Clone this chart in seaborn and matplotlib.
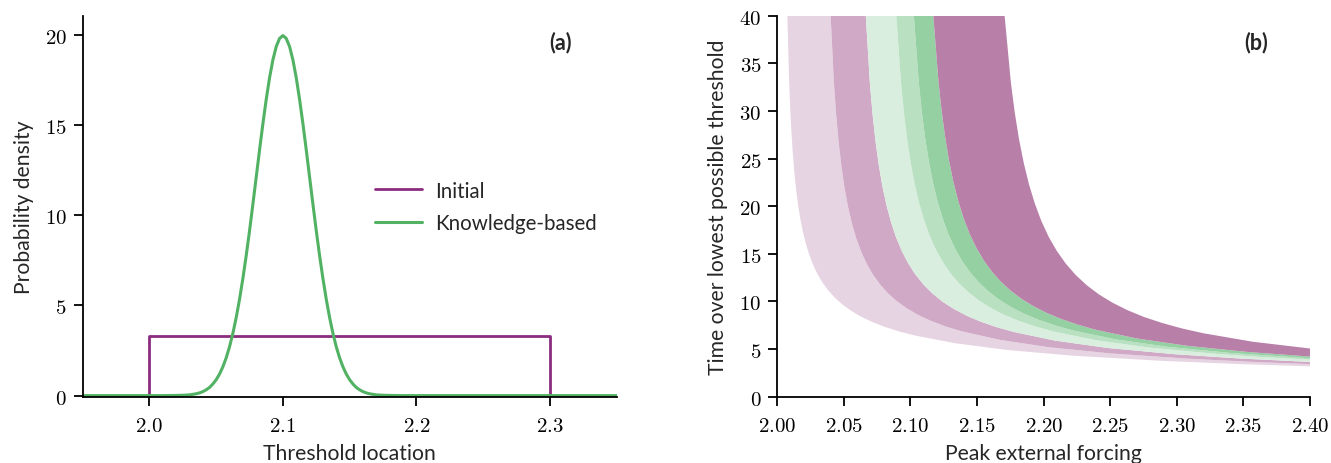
import numpy as np
import pandas as pd
import matplotlib
matplotlib.use("Agg")
import matplotlib.pyplot as plt
import seaborn as sns

# ---------------- data: panel (a) ----------------
initial_x = [1.95, 2.0, 2.0, 2.3, 2.3, 2.35]
initial_y = [0.0, 0.0, 3.33, 3.33, 0.0, 0.0]

knowledge_x = [1.95, 2.00, 2.01, 2.02, 2.025, 2.03, 2.0325, 2.035, 2.0375, 2.04, 2.0425,
               2.045, 2.0475, 2.05, 2.0525, 2.055, 2.0575, 2.06, 2.0625, 2.065, 2.0675,
               2.07, 2.0725, 2.075, 2.0775, 2.08, 2.0825, 2.085, 2.0875, 2.09, 2.0925,
               2.095, 2.0975, 2.10, 2.1025, 2.105, 2.1075, 2.11, 2.1125, 2.115, 2.1175,
               2.12, 2.1225, 2.125, 2.1275, 2.13, 2.1325, 2.135, 2.1375, 2.14, 2.1425,
               2.145, 2.1475, 2.15, 2.1525, 2.155, 2.1575, 2.16, 2.1625, 2.165, 2.1675,
               2.17, 2.175, 2.18, 2.19, 2.20, 2.35]
knowledge_y = [0.0, 0.0, 0.0, 0.01, 0.02, 0.04, 0.07, 0.10, 0.15, 0.22, 0.32,
               0.45, 0.64, 0.88, 1.19, 1.59, 2.09, 2.70, 3.44, 4.32, 5.33,
               6.48, 7.75, 9.13, 10.60, 12.10, 13.61, 15.06, 16.41, 17.61, 18.60,
               19.34, 19.79, 19.95, 19.79, 19.34, 18.60, 17.61, 16.41, 15.06, 13.61,
               12.10, 10.60, 9.13, 7.75, 6.48, 5.33, 4.32, 3.44, 2.70, 2.09,
               1.59, 1.19, 0.88, 0.64, 0.45, 0.32, 0.22, 0.15, 0.10, 0.07,
               0.04, 0.02, 0.01, 0.0, 0.0, 0.0]

a_xticks = [2.0, 2.1, 2.2, 2.3]
a_yticks = [0, 5, 10, 15, 20]

# ---------------- data: panel (b) boundary curves ----------------
c0_x = [2.0075, 2.0088, 2.00959, 2.0105, 2.01153, 2.0127, 2.01401, 2.0155, 2.01723, 2.0192,
        2.02144, 2.0240, 2.0269, 2.0302, 2.03398, 2.0383, 2.04325, 2.0489, 2.0553, 2.0626,
        2.07092, 2.0804, 2.0912, 2.1035, 2.1336, 2.1728, 2.2237, 2.2898, 2.3432, 2.4000]
c0_y = [40.28, 33.50, 30.65, 28.07, 25.78, 23.73, 21.90, 20.24, 18.71, 17.32,
        16.05, 14.90, 13.84, 12.87, 11.98, 11.15, 10.39, 9.68, 9.03, 8.42,
        7.87, 7.35, 6.86, 6.42, 5.61, 4.90, 4.29, 3.757, 3.446, 3.188]

c1_x = [2.0398, 2.0425, 2.04414, 2.0460, 2.04811, 2.0505, 2.05309, 2.0560, 2.05929, 2.0630,
        2.06723, 2.0720, 2.07718, 2.0830, 2.08959, 2.0970, 2.10547, 2.1150, 2.12581, 2.1380,
        2.1670, 2.2040, 2.2500, 2.3100, 2.3600, 2.4000]
c1_y = [40.71, 32.98, 29.72, 26.81, 24.22, 21.92, 19.96, 18.20, 16.63, 15.21,
        13.93, 12.78, 11.78, 10.87, 10.05, 9.30, 8.61, 7.98, 7.40, 6.88,
        5.97, 5.19, 4.545, 3.977, 3.636, 3.419]

c2_x = [2.0661, 2.0695, 2.07148, 2.0737, 2.0762, 2.0790, 2.08207, 2.0855, 2.08928, 2.0935,
        2.09822, 2.1035, 2.10962, 2.1165, 2.12405, 2.1325, 2.14194, 2.1525, 2.1643, 2.1775,
        2.2085, 2.2485, 2.2985, 2.3485, 2.4000]
c2_y = [40.81, 32.95, 29.74, 26.88, 24.32, 22.04, 20.05, 18.28, 16.70, 15.29,
        14.02, 12.87, 11.80, 10.84, 9.98, 9.22, 8.52, 7.89, 7.32, 6.80,
        5.89, 5.11, 4.46, 4.00, 3.651]

c3_x = [2.0892, 2.0929, 2.09503, 2.0974, 2.10009, 2.1031, 2.10641, 2.1101, 2.11426, 2.1189,
        2.1241, 2.1299, 2.13628, 2.1434, 2.15143, 2.1604, 2.17033, 2.1814, 2.19369, 2.2074,
        2.2394, 2.2794, 2.3294, 2.3644, 2.4000]
c3_y = [40.36, 32.95, 29.89, 27.14, 24.63, 22.38, 20.38, 18.59, 16.96, 15.50,
        14.18, 12.99, 11.93, 10.98, 10.10, 9.31, 8.60, 7.96, 7.38, 6.85,
        5.93, 5.16, 4.50, 4.163, 3.885]

c4_x = [2.1023, 2.1062, 2.10847, 2.1110, 2.11384, 2.1170, 2.12054, 2.1245, 2.12876, 2.1335,
        2.13871, 2.1445, 2.15112, 2.1585, 2.16655, 2.1755, 2.18544, 2.1965, 2.20881, 2.2225,
        2.2545, 2.2935, 2.3415, 2.4000]
c4_y = [40.49, 33.08, 29.98, 27.20, 24.68, 22.43, 20.40, 18.57, 16.98, 15.55,
        14.27, 13.11, 12.03, 11.06, 10.20, 9.41, 8.70, 8.06, 7.47, 6.94,
        6.01, 5.23, 4.58, 4.035]

c5_x = [2.1169, 2.1210, 2.12337, 2.1260, 2.12893, 2.1322, 2.13589, 2.1400, 2.1445, 2.1495,
        2.15495, 2.1610, 2.16764, 2.1750, 2.18307, 2.1920, 2.20196, 2.2130, 2.22533, 2.2390,
        2.2700, 2.3080, 2.3540, 2.4000]
c5_y = [40.46, 33.13, 30.06, 27.30, 24.82, 22.58, 20.54, 18.71, 17.08, 15.62,
        14.33, 13.16, 12.11, 11.16, 10.30, 9.53, 8.82, 8.17, 7.575, 7.03,
        6.11, 5.34, 4.685, 4.216]

c6_x = [2.1705, 2.1754, 2.17829, 2.1815, 2.18505, 2.1890, 2.1934, 2.1983, 2.20374, 2.2098,
        2.21652, 2.2240, 2.23229, 2.2415, 2.25168, 2.2630, 2.27533, 2.2890, 2.30372, 2.3200,
        2.3570, 2.4000]
c6_y = [40.28, 32.98, 29.85, 27.05, 24.55, 22.29, 20.27, 18.44, 16.80, 15.32,
        13.99, 12.79, 11.71, 10.74, 9.87, 9.08, 8.37, 7.74, 7.17, 6.66,
        5.77, 5.06]

band_colors = ["#E7D4E2", "#D0A9C6", "#DAEEDF", "#B8E0C1", "#95D0A2", "#B87FA8"]

b_xticks = [2.00, 2.05, 2.10, 2.15, 2.20, 2.25, 2.30, 2.35, 2.40]
b_yticks = [0, 5, 10, 15, 20, 25, 30, 35, 40]

purple = "#8B2C7E"
green = "#52B263"

# ---------------- style ----------------
sns.set_theme(style="ticks")
plt.rcParams["font.family"] = ["Lato", "DejaVu Sans"]
plt.rcParams["mathtext.fontset"] = "cm"
plt.rcParams["axes.linewidth"] = 1.3
plt.rcParams["xtick.major.width"] = 1.3
plt.rcParams["ytick.major.width"] = 1.3
plt.rcParams["xtick.major.size"] = 6.5
plt.rcParams["ytick.major.size"] = 6.5
plt.rcParams["xtick.color"] = "black"
plt.rcParams["ytick.color"] = "black"
plt.rcParams["axes.edgecolor"] = "black"

fig = plt.figure(figsize=(13.31, 4.64), dpi=100)
ax1 = fig.add_axes([0.0621, 0.1429, 0.4012, 0.8211])
ax2 = fig.add_axes([0.5840, 0.1429, 0.4002, 0.8211])

tick_fs = 15
label_fs = 15.2
legend_fs = 14.8

# ---------------- panel (a) ----------------
df_init = pd.DataFrame({"x": initial_x, "y": initial_y})
df_know = pd.DataFrame({"x": knowledge_x, "y": knowledge_y})
sns.lineplot(data=df_init, x="x", y="y", sort=False, estimator=None, color=purple,
             lw=2.0, label="Initial", ax=ax1)
sns.lineplot(data=df_know, x="x", y="y", sort=False, estimator=None, color=green,
             lw=2.2, label="Knowledge-based", ax=ax1)
ax1.set_xlim(1.95, 2.35)
ax1.set_ylim(-0.06, 21.05)
ax1.set_xticks(a_xticks)
ax1.set_xticklabels([f"${t:.1f}$" for t in a_xticks], fontsize=tick_fs)
ax1.set_yticks(a_yticks)
ax1.set_yticklabels([f"${t}$" for t in a_yticks], fontsize=tick_fs)
ax1.set_xlabel("Threshold location", fontsize=label_fs, labelpad=6)
ax1.set_ylabel("Probability density", fontsize=label_fs, labelpad=8)
ax1.tick_params(axis="x", pad=6.5)
ax1.tick_params(axis="y", pad=5)
leg = ax1.legend(frameon=False, loc="center left", bbox_to_anchor=(0.547, 0.498),
                 fontsize=legend_fs, handlelength=2.3, handletextpad=0.65,
                 labelspacing=0.62, borderpad=0, borderaxespad=0)
ax1.text(0.8957, 0.932, "(a)", transform=ax1.transAxes, ha="center", va="center",
         fontsize=15.5, fontweight="bold")
sns.despine(ax=ax1)

# ---------------- panel (b) ----------------
curves = [(c0_x, c0_y), (c1_x, c1_y), (c2_x, c2_y), (c3_x, c3_y),
          (c4_x, c4_y), (c5_x, c5_y), (c6_x, c6_y)]
for i, col in enumerate(band_colors):
    lx, ly = curves[i]
    ux, uy = curves[i + 1]
    px = list(lx) + list(ux)[::-1]
    py = list(ly) + list(uy)[::-1]
    ax2.fill(px, py, color=col, lw=0, zorder=2)

ax2.set_xlim(2.0, 2.4)
ax2.set_ylim(0, 40)
ax2.set_xticks(b_xticks)
ax2.set_xticklabels([f"${t:.2f}$" for t in b_xticks], fontsize=tick_fs)
ax2.set_yticks(b_yticks)
ax2.set_yticklabels([f"${t}$" for t in b_yticks], fontsize=tick_fs)
ax2.set_xlabel("Peak external forcing", fontsize=label_fs, labelpad=6)
ax2.set_ylabel("Time over lowest possible threshold", fontsize=label_fs, labelpad=8)
ax2.tick_params(axis="x", pad=6.5)
ax2.tick_params(axis="y", pad=5)
ax2.text(0.8986, 0.932, "(b)", transform=ax2.transAxes, ha="center", va="center",
         fontsize=15.5, fontweight="bold")
sns.despine(ax=ax2)

fig.savefig("out.png", dpi=100)
